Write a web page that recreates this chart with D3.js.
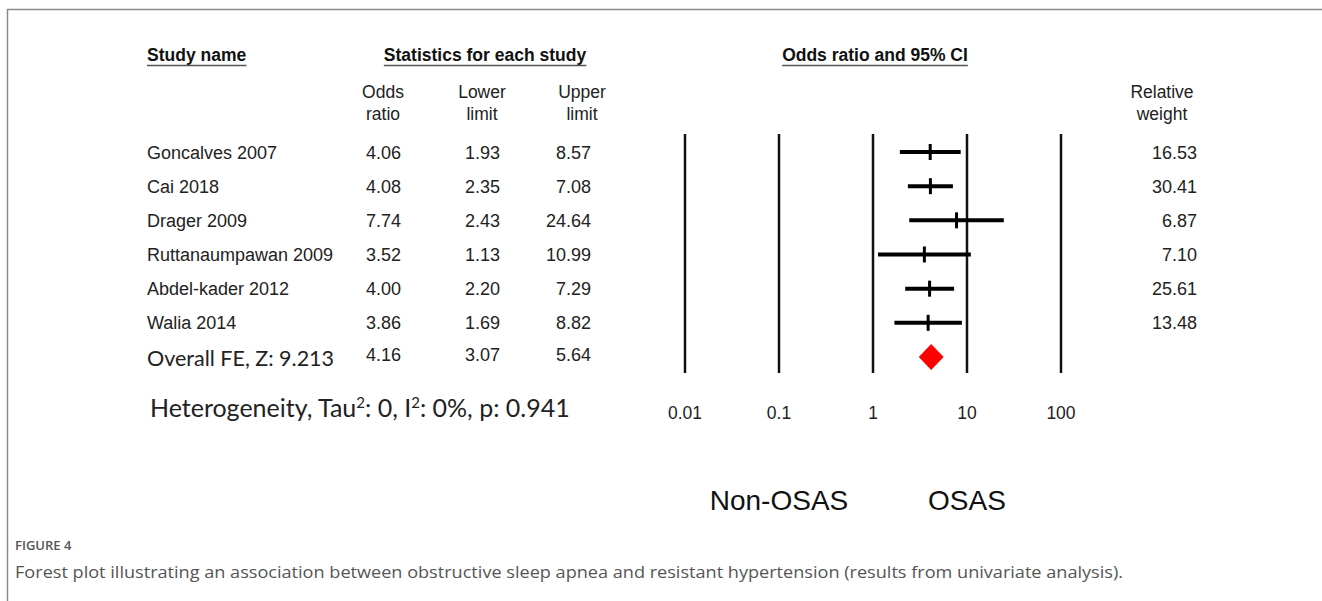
<!DOCTYPE html>
<html>
<head>
<meta charset="utf-8">
<script src="https://cdn.jsdelivr.net/npm/d3@7"></script>
<style>
  body { margin: 0; background: #fff; }
  svg { display: block; }
</style>
</head>
<body>
<div id="chart"></div>
<script>
// study data
const studies = ["Goncalves 2007", "Cai 2018", "Drager 2009", "Ruttanaumpawan 2009", "Abdel-kader 2012", "Walia 2014"];
const oddsRatio = [4.06, 4.08, 7.74, 3.52, 4.00, 3.86];
const lowerLimit = [1.93, 2.35, 2.43, 1.13, 2.20, 1.69];
const upperLimit = [8.57, 7.08, 24.64, 10.99, 7.29, 8.82];
const weights = [16.53, 30.41, 6.87, 7.10, 25.61, 13.48];
const overall = { label: "Overall FE, Z: 9.213", or: 4.16, lower: 3.07, upper: 5.64 };
const ticks = [0.01, 0.1, 1, 10, 100];
const tickLabels = ["0.01", "0.1", "1", "10", "100"];

const width = 1322, height = 601;
const svg = d3.select("#chart").append("svg")
  .attr("width", width)
  .attr("height", height);

// frame
svg.append("path")
  .attr("d", "M7.5,601 V9.5 H1322")
  .attr("fill", "none")
  .attr("stroke", "#8a8a8a")
  .attr("stroke-width", 1.5);

const x = d3.scaleLog().domain([0.01, 100]).range([685, 1061]);
const y = d3.scaleLinear().domain([0, 6]).range([152, 357]);

const arial = "'Liberation Sans', Arial, sans-serif";
const calibri = "Lato, 'Open Sans', sans-serif";

// column x positions (right edge of numbers)
const colOR = 401, colLo = 500, colHi = 591, colW = 1197;

// headers
const headers = [
  { text: "Study name", x: 147, anchor: "start" },
  { text: "Statistics for each study", x: 485, anchor: "middle" },
  { text: "Odds ratio and 95% CI", x: 875, anchor: "middle" }
];
const hg = svg.append("g").attr("font-family", arial).attr("font-size", 17.5).attr("font-weight", "bold");
headers.forEach(h => {
  const t = hg.append("text").attr("x", h.x).attr("y", 61).attr("text-anchor", h.anchor).attr("fill", "#111").text(h.text);
  const bb = t.node().getBBox();
  hg.append("line")
    .attr("x1", bb.x).attr("x2", bb.x + bb.width)
    .attr("y1", 65.5).attr("y2", 65.5)
    .attr("stroke", "#555").attr("stroke-width", 1.5);
});

// column headers
const colHeads = [
  { lines: ["Odds", "ratio"], x: 383 },
  { lines: ["Lower", "limit"], x: 482 },
  { lines: ["Upper", "limit"], x: 582 },
  { lines: ["Relative", "weight"], x: 1162 }
];
const cg = svg.append("g").attr("font-family", arial).attr("font-size", 17.5).attr("fill", "#222").attr("text-anchor", "middle");
colHeads.forEach(c => {
  c.lines.forEach((l, i) => cg.append("text").attr("x", c.x).attr("y", 98 + i * 22).text(l));
});

// table rows
const rows = studies.map((s, i) => ({ name: s, or: oddsRatio[i], lo: lowerLimit[i], hi: upperLimit[i], w: weights[i] }));
const tg = svg.append("g").attr("font-family", arial).attr("font-size", 18).attr("fill", "#222");
rows.forEach((r, i) => {
  const yy = y(i) + 6.5;
  tg.append("text").attr("x", 147).attr("y", yy).text(r.name);
  tg.append("text").attr("x", colOR).attr("y", yy).attr("text-anchor", "end").text(r.or.toFixed(2));
  tg.append("text").attr("x", colLo).attr("y", yy).attr("text-anchor", "end").text(r.lo.toFixed(2));
  tg.append("text").attr("x", colHi).attr("y", yy).attr("text-anchor", "end").text(r.hi.toFixed(2));
  tg.append("text").attr("x", colW).attr("y", yy).attr("text-anchor", "end").text(r.w.toFixed(2));
});
// overall row
const oy = y(6) + 4;
svg.append("text").attr("x", 147).attr("y", oy + 5).attr("font-family", calibri).attr("font-size", 21.5).attr("fill", "#222").text(overall.label);
[[overall.or, colOR], [overall.lower, colLo], [overall.upper, colHi]].forEach(([v, px]) => {
  tg.append("text").attr("x", px).attr("y", oy).attr("text-anchor", "end").text(v.toFixed(2));
});

// heterogeneity
const het = svg.append("text").attr("x", 150).attr("y", 417).attr("font-family", calibri).attr("font-size", 25).attr("fill", "#222");
het.append("tspan").text("Heterogeneity, Tau");
het.append("tspan").attr("font-size", 15).attr("dy", -9).text("2");
het.append("tspan").attr("dy", 9).text(": 0, I");
het.append("tspan").attr("font-size", 15).attr("dy", -9).text("2");
het.append("tspan").attr("dy", 9).text(": 0%, p: 0.941");

// vertical reference lines
svg.append("g").selectAll("line").data(ticks).join("line")
  .attr("x1", d => x(d)).attr("x2", d => x(d))
  .attr("y1", 134).attr("y2", 373)
  .attr("stroke", "#111").attr("stroke-width", 2.5);

// axis labels
svg.append("g").attr("font-family", arial).attr("font-size", 17.5).attr("fill", "#222").attr("text-anchor", "middle")
  .selectAll("text").data(ticks).join("text")
  .attr("x", d => x(d)).attr("y", 419)
  .text((d, i) => tickLabels[i]);

// CI lines
const fg = svg.append("g");
fg.selectAll("line.ci").data(rows).join("line").attr("class", "ci")
  .attr("x1", d => x(d.lo)).attr("x2", d => x(d.hi))
  .attr("y1", (d, i) => y(i)).attr("y2", (d, i) => y(i))
  .attr("stroke", "#000").attr("stroke-width", 4);
fg.selectAll("line.pt").data(rows).join("line").attr("class", "pt")
  .attr("x1", d => x(d.or)).attr("x2", d => x(d.or))
  .attr("y1", (d, i) => y(i) - 8).attr("y2", (d, i) => y(i) + 8)
  .attr("stroke", "#000").attr("stroke-width", 3);

// overall diamond
const dy0 = y(6);
svg.append("path")
  .attr("d", `M${x(overall.lower)},${dy0} L${x(overall.or)},${dy0 - 13} L${x(overall.upper)},${dy0} L${x(overall.or)},${dy0 + 13} Z`)
  .attr("fill", "#ff0000");

// direction labels
svg.append("g").attr("font-family", arial).attr("font-size", 28).attr("fill", "#111").attr("text-anchor", "middle")
  .selectAll("text").data([["Non-OSAS", 0.1], ["OSAS", 10]]).join("text")
  .attr("x", d => x(d[1])).attr("y", 510)
  .text(d => d[0]);

// caption
svg.append("text").attr("x", 15).attr("y", 550)
  .attr("font-family", "'Open Sans', sans-serif").attr("font-size", 13).attr("font-weight", 600).attr("fill", "#555")
  .text("FIGURE 4");
svg.append("text").attr("x", 15).attr("y", 578)
  .attr("font-family", "'Open Sans', sans-serif").attr("font-size", 16).attr("fill", "#555")
  .attr("textLength", 1108).attr("lengthAdjust", "spacingAndGlyphs")
  .text("Forest plot illustrating an association between obstructive sleep apnea and resistant hypertension (results from univariate analysis).");
</script>
</body>
</html>
